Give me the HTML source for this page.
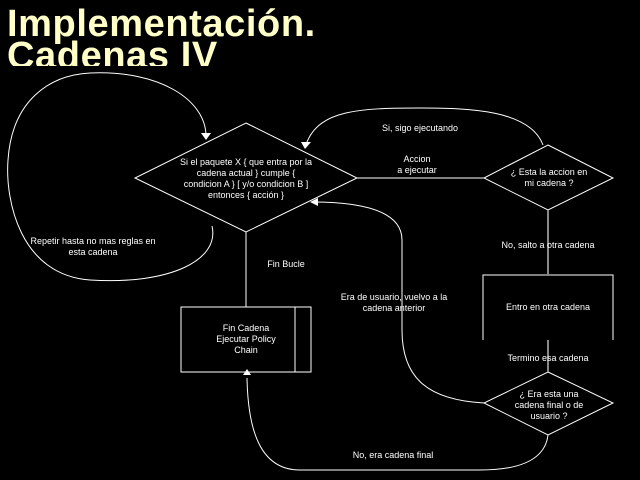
<!DOCTYPE html>
<html><head><meta charset="utf-8"><style>
html,body{margin:0;padding:0;background:#000;width:640px;height:480px;overflow:hidden}
.t{position:absolute;left:7px;font:bold 38px "Liberation Sans",sans-serif;color:#ffffc8;line-height:32px;letter-spacing:0.6px}
svg{position:absolute;left:0;top:0}
text{font-family:"Liberation Sans",sans-serif;font-size:9px;fill:#fff;text-anchor:middle}
</style></head><body>
<div style="position:absolute;left:0;top:0;width:640px;height:66px;overflow:hidden">
<div class="t" style="top:8px">Implementación.<br>Cadenas IV</div></div>
<svg width="640" height="480" viewBox="0 0 640 480">
<g fill="none" stroke="#fff" stroke-width="1">
<polygon points="246,123 357,178 246,232 135,178"/>
<polygon points="548,145 613,178 548,210 484,178"/>
<polygon points="548,372 613,403 548,435 484,403"/>
<polyline points="483,340 483,275 613,275 613,340"/>
<rect x="181" y="307" width="130" height="65"/>
<line x1="295" y1="307" x2="295" y2="372"/>
<line x1="357" y1="178" x2="484" y2="178"/>
<line x1="246" y1="232" x2="246" y2="307"/>
<line x1="548" y1="210" x2="548" y2="275" stroke="#888" stroke-width="2"/>
<line x1="548" y1="340" x2="548" y2="372" stroke="#888" stroke-width="2"/>
<path d="M212,226 C220,260 170,285 90,280 C20,275 5,200 8,160 C12,100 50,75 90,73 C160,70 205,100 206,135"/>
<path d="M543,145 C530,110 470,108 420,108 C360,108 320,110 307,142"/>
<path d="M484,403 C430,400 402,380 402,330 L402,240 C402,210 360,202 312,202"/>
<path d="M548,435 C545,460 520,470 480,470 L300,470 C260,470 248,430 247,378"/>
</g>
<g fill="#fff">
<polygon points="201,133 211,133 206,140"/>
<polygon points="301,142 311,142 305,149"/>
<polygon points="310,202 318,198 318,206"/>
<polygon points="243,375 251,375 247,369"/>
</g>
<text x="246" y="165">Si el paquete X { que entra por la</text>
<text x="246" y="176">cadena actual }  cumple {</text>
<text x="246" y="187">condicion A } [ y/o condicion B ]</text>
<text x="246" y="198">entonces { acción }</text>
<text x="420" y="131">Si, sigo ejecutando</text>
<text x="417" y="162">Accion</text>
<text x="417" y="173">a ejecutar</text>
<text x="549" y="175">¿ Esta la accion en</text>
<text x="549" y="186">mi cadena ?</text>
<text x="548" y="248">No, salto a otra cadena</text>
<text x="548" y="310">Entro en otra cadena</text>
<text x="548" y="361">Termino esa cadena</text>
<text x="549" y="397">¿ Era esta una</text>
<text x="549" y="408">cadena final o de</text>
<text x="549" y="419">usuario ?</text>
<text x="394" y="300">Era de usuario, vuelvo a la</text>
<text x="394" y="311">cadena anterior</text>
<text x="393" y="458">No, era cadena final</text>
<text x="93" y="244">Repetir hasta no mas reglas en</text>
<text x="93" y="255">esta cadena</text>
<text x="286" y="267">Fin Bucle</text>
<text x="246" y="331">Fin Cadena</text>
<text x="246" y="342">Ejecutar Policy</text>
<text x="246" y="353">Chain</text>
</svg>
</body></html>
